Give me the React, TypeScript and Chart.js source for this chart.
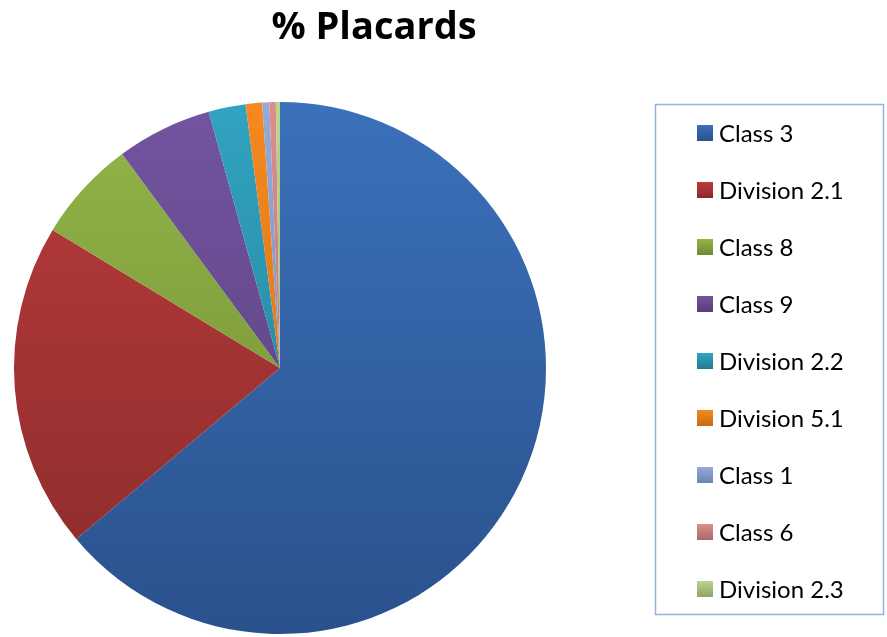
import React, { useEffect, useRef } from "react";
import { Chart, registerables } from "chart.js";

Chart.register(...registerables);

const categories = [
  "Class 3",
  "Division 2.1",
  "Class 8",
  "Class 9",
  "Division 2.2",
  "Division 5.1",
  "Class 1",
  "Class 6",
  "Division 2.3",
];
const percentValues = [63.9, 19.8, 6.2, 5.8, 2.25, 1.0, 0.43, 0.39, 0.25];
const lightColors = ["#3B71BA", "#BA3B3B", "#93B548", "#7354A0", "#31A3C0", "#F6891F", "#93AADB", "#DC8E8D", "#BBD48E"];
const darkColors = ["#2A518C", "#8A2B2B", "#6E8A33", "#563E78", "#247A90", "#C86A14", "#6E84AF", "#A86A6A", "#8FA56A"];
const chartTitle = "% Placards";

export default function App() {
  const ref = useRef<HTMLCanvasElement | null>(null);
  useEffect(() => {
    document.body.style.margin = "0";
    const canvas = ref.current!;
    const legendPlugin = {
      id: "customLegendTitle",
      afterDraw(chart: any) {
        const ctx = chart.ctx as CanvasRenderingContext2D;
        ctx.save();
        // title
        ctx.fillStyle = "#000";
        ctx.font = "bold 38px 'Open Sans'";
        ctx.textAlign = "center";
        ctx.textBaseline = "middle";
        ctx.fillText(chartTitle, 374, 28);
        // legend box
        ctx.strokeStyle = "#8EB4E3";
        ctx.lineWidth = 1.5;
        ctx.strokeRect(655.5, 104.5, 228, 510);
        ctx.font = "24px Lato";
        ctx.textAlign = "left";
        const labels = chart.data.labels as string[];
        labels.forEach((lab, i) => {
          const cy = 133 + i * 57;
          const g = ctx.createLinearGradient(0, cy - 8, 0, cy + 8);
          g.addColorStop(0, lightColors[i]);
          g.addColorStop(1, darkColors[i]);
          ctx.fillStyle = g;
          ctx.fillRect(697, cy - 8, 16, 16);
          ctx.fillStyle = "#000";
          ctx.fillText(lab, 719, cy + 1);
        });
        ctx.restore();
      },
    };
    const chart = new Chart(canvas, {
      type: "pie",
      data: {
        labels: categories,
        datasets: [
          {
            data: percentValues,
            borderWidth: 0,
            backgroundColor: (c: any) => {
              const area = c.chart.chartArea;
              if (!area) return lightColors[c.dataIndex];
              const g = c.chart.ctx.createLinearGradient(0, area.top, 0, area.bottom);
              g.addColorStop(0, lightColors[c.dataIndex]);
              g.addColorStop(1, darkColors[c.dataIndex]);
              return g;
            },
          },
        ],
      },
      options: {
        responsive: false,
        animation: false,
        layout: { padding: { top: 102, bottom: 3, left: 14, right: 341 } },
        plugins: {
          legend: { display: false },
          title: { display: false },
          tooltip: { enabled: false },
        },
      },
      plugins: [legendPlugin],
    });
    return () => chart.destroy();
  }, []);
  return (
    <div style={{ width: 887, height: 637, background: "#fff" }}>
      <canvas ref={ref} width={887} height={637} />
    </div>
  );
}
